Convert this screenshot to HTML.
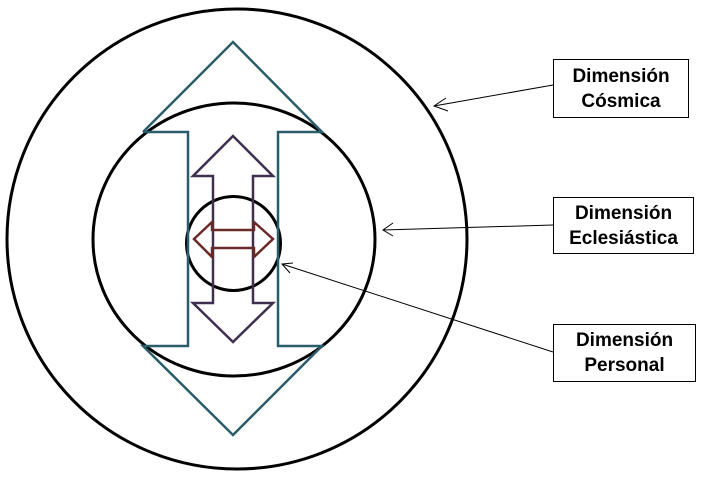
<!DOCTYPE html>
<html><head><meta charset="utf-8"><style>
body{margin:0;background:#fff;}
.box{position:absolute;border:1.5px solid #000;background:#fff;font:bold 19px "Liberation Sans",Arial,sans-serif;text-align:center;line-height:25px;box-sizing:border-box;display:flex;align-items:center;justify-content:center;}
</style></head><body>
<div style="position:relative;width:712px;height:489px;overflow:hidden">
<svg width="712" height="489" style="position:absolute;left:0;top:0">
<g fill="none" stroke="#000" stroke-width="3">
<ellipse cx="237" cy="239" rx="230" ry="230"/>
<ellipse cx="234" cy="239.5" rx="141" ry="136.5"/>
<circle cx="233.5" cy="243.5" r="47"/>
</g>
<polyline fill="none" stroke="#2a5d6a" stroke-width="2.5" points="143,132 188,132 188,346 143,346 233,435 322,346 278,346 278,132 322,132 233,42 143,132"/>
<polygon fill="none" stroke="#3f3050" stroke-width="2.5" points="233,136 273,176 253,176 253,303 273,303 233,342 193,303 213,303 213,176 193,176"/>
<polygon fill="none" stroke="#6a2a28" stroke-width="2.5" points="194,239 212,222 212,230 254,230 254,222 273,239 254,257 254,248 212,248 212,257"/>
<g stroke="#000" stroke-width="1" fill="none">
<line x1="553" y1="85" x2="434" y2="106"/>
<polyline points="446,98 434,106 448,111"/>
<line x1="553" y1="225" x2="383" y2="230"/>
<polyline points="393,223 383,230 393,236"/>
<line x1="553" y1="352" x2="282" y2="264"/>
<polyline points="293,263 282,264 290,273"/>
</g>
</svg>
<div class="box" style="left:553px;top:59px;width:136px;height:59px">Dimensión<br>Cósmica</div>
<div class="box" style="left:553px;top:197px;width:141px;height:57px">Dimensión<br>Eclesiástica</div>
<div class="box" style="left:553px;top:324px;width:143px;height:58px">Dimensión<br>Personal</div>
</div>
</body></html>
